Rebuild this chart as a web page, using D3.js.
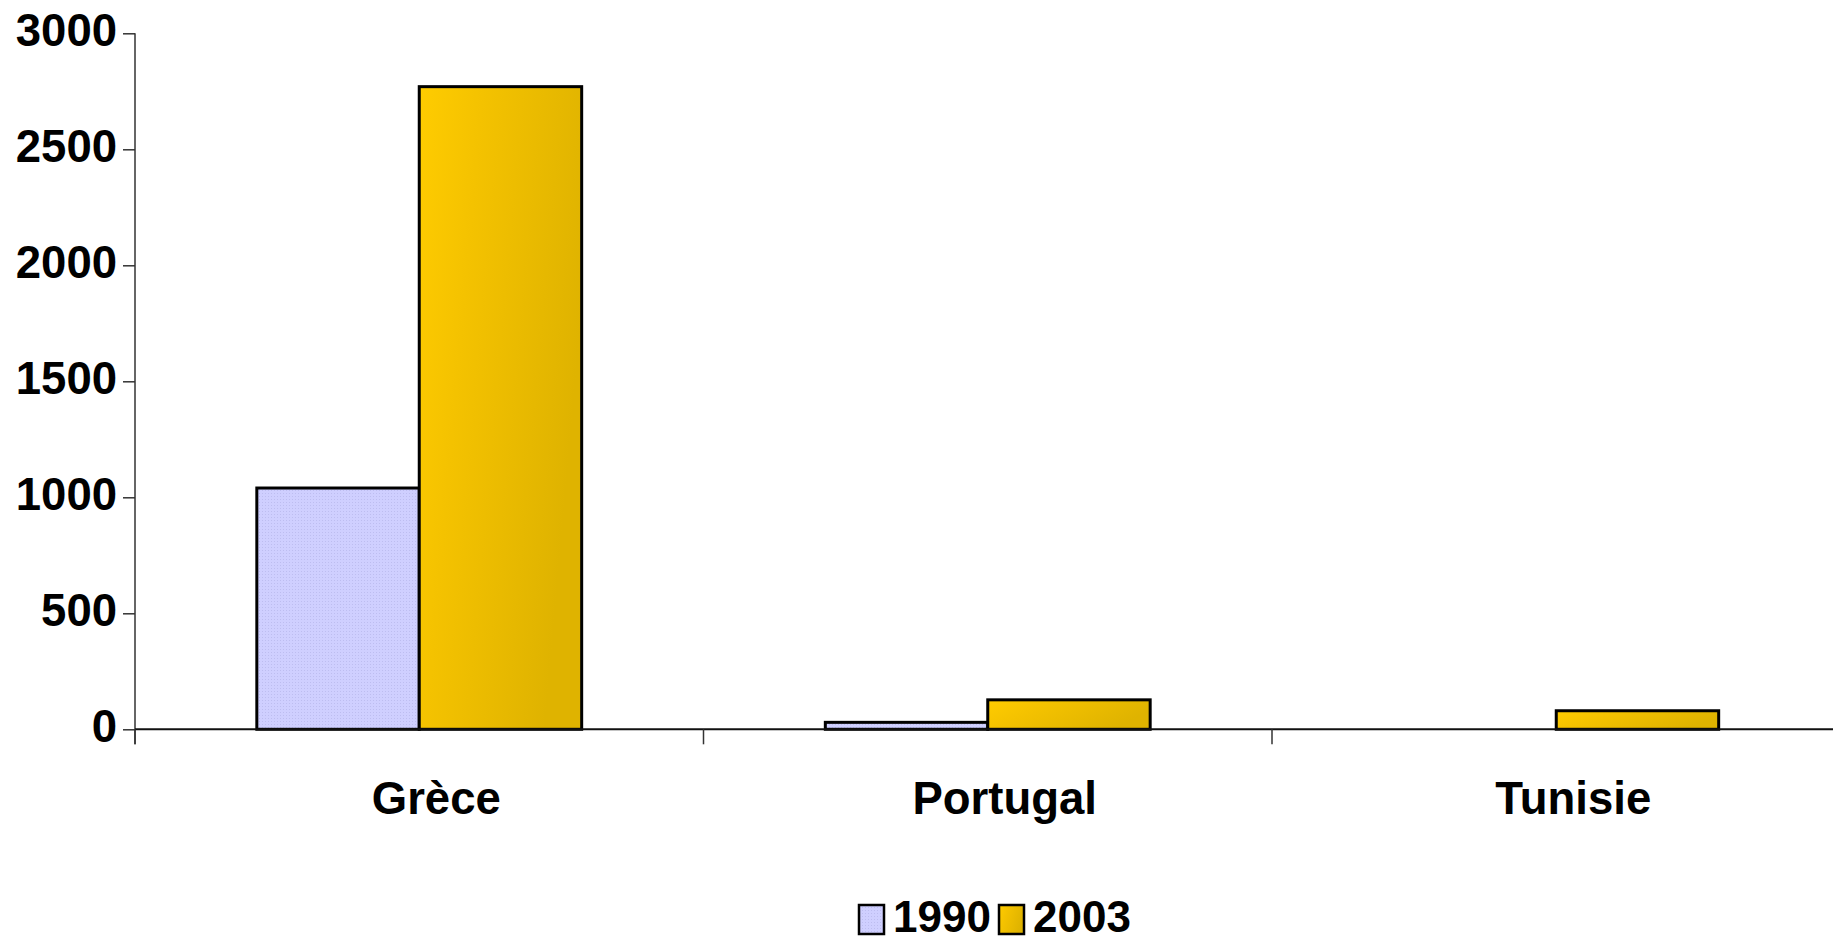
<!DOCTYPE html>
<html>
<head>
<meta charset="utf-8">
<script src="https://cdn.jsdelivr.net/npm/d3@7"></script>
<style>
  html, body { margin: 0; padding: 0; background: #fff; }
  svg { display: block; }
  text { font-family: "Liberation Sans", Arial, sans-serif; font-weight: bold; fill: #000; }
</style>
</head>
<body>
<svg id="chart" width="1833" height="942"></svg>
<script>
const categories = ["Grèce", "Portugal", "Tunisie"];
const series = ["1990", "2003"];
const values1990 = [1040, 30, 0];
const values2003 = [2770, 127, 80];
const yTicks = [0, 500, 1000, 1500, 2000, 2500, 3000];

const svg = d3.select("#chart");
const defs = svg.append("defs");

// dotted lavender pattern for 1990
const pat = defs.append("pattern").attr("id", "p1990").attr("patternUnits", "userSpaceOnUse")
  .attr("width", 3).attr("height", 3);
pat.append("rect").attr("width", 3).attr("height", 3).attr("fill", "#CFCFFF");
pat.append("rect").attr("x", 1).attr("y", 1).attr("width", 1).attr("height", 1).attr("fill", "#BDBDF0");

// golden gradient for 2003
const grad = defs.append("linearGradient").attr("id", "g2003")
  .attr("x1", 0).attr("y1", 0).attr("x2", 1).attr("y2", 0.35);
grad.append("stop").attr("offset", "0%").attr("stop-color", "#FFCC00");
grad.append("stop").attr("offset", "35%").attr("stop-color", "#F4C200");
grad.append("stop").attr("offset", "100%").attr("stop-color", "#DFB300");

const fills = { "1990": "url(#p1990)", "2003": "url(#g2003)" };

const xLeft = 135, xRight = 1840.5, yBase = 729.3, yTop = 33.3;

const x0 = d3.scaleBand().domain(categories).range([xLeft, xRight]).paddingInner(0).paddingOuter(0);
const x1 = d3.scaleBand().domain(series).range([0, x0.bandwidth()]).paddingInner(0).paddingOuter(0.75);
const y = d3.scaleLinear().domain([0, 3000]).range([yBase, yTop]);

const rows = categories.map((c, i) => ({ cat: c, vals: { "1990": values1990[i], "2003": values2003[i] } }));

// bars
const g = svg.append("g");
rows.forEach(r => {
  series.forEach(s => {
    const v = r.vals[s];
    if (!v) return;
    g.append("rect")
      .attr("x", x0(r.cat) + x1(s))
      .attr("y", y(v))
      .attr("width", x1.bandwidth())
      .attr("height", y(0) - y(v))
      .attr("fill", fills[s])
      .attr("stroke", "#000")
      .attr("stroke-width", 3);
  });
});

// y axis
const yAxis = d3.axisLeft(y).tickValues(yTicks).tickSize(12).tickPadding(6).tickFormat(d3.format("d"));
const ya = svg.append("g").attr("transform", `translate(${xLeft},0)`).call(yAxis);
ya.select(".domain").remove();
ya.selectAll(".tick line").attr("stroke", "#333").attr("stroke-width", 1.5);
ya.selectAll(".tick text").style("font-size", "45.5px").attr("dy", "12.5px")
  .style("font-family", "'Liberation Sans', Arial, sans-serif").style("font-weight", "bold").attr("fill", "#000");
svg.append("line").attr("x1", xLeft).attr("x2", xLeft).attr("y1", yTop).attr("y2", yBase + 15)
  .attr("stroke", "#333").attr("stroke-width", 1.5);

// x axis
svg.append("line").attr("x1", xLeft).attr("x2", 1833).attr("y1", yBase).attr("y2", yBase)
  .attr("stroke", "#111").attr("stroke-width", 2);
const bounds = categories.map(c => x0(c)).concat([xRight]);
svg.selectAll(".xtick").data(bounds).enter().append("line")
  .attr("x1", d => d).attr("x2", d => d).attr("y1", yBase).attr("y2", yBase + 15)
  .attr("stroke", "#333").attr("stroke-width", 1.5);
svg.selectAll(".xlab").data(categories).enter().append("text")
  .attr("x", d => x0(d) + x0.bandwidth() / 2 + 17)
  .attr("y", 814)
  .attr("text-anchor", "middle")
  .style("font-size", "45.5px")
  .text(d => d);

// legend
const leg = svg.append("g");
series.forEach((s, i) => {
  const ox = 859 + i * 140;
  leg.append("rect").attr("x", ox).attr("y", 905).attr("width", 25).attr("height", 29)
    .attr("fill", fills[s]).attr("stroke", "#000").attr("stroke-width", 2.5);
  leg.append("text").attr("x", ox + 34).attr("y", 932).style("font-size", "44px").text(s);
});
</script>
</body>
</html>
